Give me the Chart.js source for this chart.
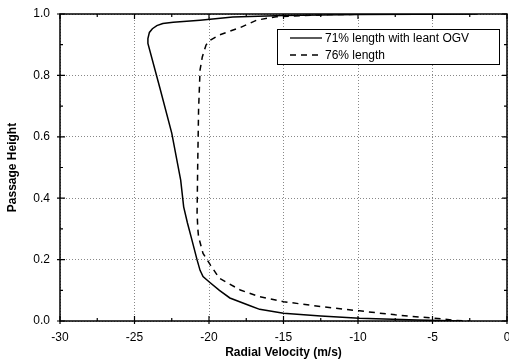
<!DOCTYPE html>
<html><head><meta charset="utf-8">
<script src="https://cdn.jsdelivr.net/npm/chart.js@4/dist/chart.umd.min.js"></script>
<style>html,body{margin:0;padding:0;background:#fff}#wrap{width:509px;height:363px}</style>
</head><body><div id="wrap"><canvas id="c" width="509" height="363"></canvas></div>
<script>
const seriesLabels = ["71% length with leant OGV", "76% length"];
const solidX = [-2, -10, -15, -18.4, -20.6, -22.4, -23.1, -23.5, -23.8, -24.0, -24.1, -24.1, -23.3, -22.5, -21.9, -21.7, -21.45, -21.2, -20.8, -20.6, -20.4, -20.0, -19.3, -18.6, -17.2, -16.6, -15.0, -12.5, -9.9, -6, -3.0];
const solidY = [1.0, 0.998, 0.995, 0.99, 0.98, 0.973, 0.969, 0.962, 0.952, 0.94, 0.92, 0.904, 0.76, 0.612, 0.459, 0.372, 0.32, 0.274, 0.199, 0.165, 0.145, 0.128, 0.1, 0.075, 0.049, 0.038, 0.025, 0.016, 0.009, 0.003, 0.0];
const dashX = [-8, -12, -15.5, -16.8, -17.9, -19.3, -19.9, -20.2, -20.45, -20.6, -20.7, -20.76, -20.8, -20.75, -20.7, -20.4, -19.9, -19.3, -17.9, -16.6, -15.0, -12.5, -9.9, -7.5, -4.9, -3.4, -2.5];
const dashY = [1.0, 0.998, 0.991, 0.98, 0.956, 0.932, 0.915, 0.899, 0.86, 0.818, 0.687, 0.502, 0.351, 0.3, 0.274, 0.22, 0.182, 0.139, 0.101, 0.079, 0.063, 0.047, 0.033, 0.02, 0.009, 0.002, 0.0];
const xTicks = [-30, -25, -20, -15, -10, -5, 0];
const yTicks = [0.0, 0.2, 0.4, 0.6, 0.8, 1.0];
const xTitle = "Radial Velocity (m/s)";
const yTitle = "Passage Height";

const toPts = (xs, ys) => xs.map((x, i) => ({x: x, y: ys[i]}));

const framePlugin = {
  id: 'frame',
  afterDatasetsDraw(chart) {
    const ctx = chart.ctx, a = chart.chartArea;
    const xs = chart.scales.x, ys = chart.scales.y;
    ctx.save();
    ctx.strokeStyle = '#000';
    ctx.lineWidth = 1.5;
    ctx.strokeRect(a.left, a.top, a.right - a.left, a.bottom - a.top);
    ctx.lineWidth = 1.2;
    ctx.beginPath();
    for (let v = -30; v <= 0.001; v += 2.5) {
      const px = xs.getPixelForValue(v);
      const major = Math.abs(v % 5) < 0.01;
      const L = major ? 5 : 3;
      ctx.moveTo(px, a.bottom); ctx.lineTo(px, a.bottom - L);
      ctx.moveTo(px, a.top); ctx.lineTo(px, a.top + L);
      if (major) { ctx.moveTo(px, a.bottom); ctx.lineTo(px, a.bottom + 3); }
    }
    for (let k = 0; k <= 10; k++) {
      const v = k / 10;
      const py = ys.getPixelForValue(v);
      const major = k % 2 === 0;
      const L = major ? 5 : 3;
      ctx.moveTo(a.left, py); ctx.lineTo(a.left + L, py);
      ctx.moveTo(a.right, py); ctx.lineTo(a.right - L, py);
      if (major) { ctx.moveTo(a.left, py); ctx.lineTo(a.left - 3, py); }
    }
    ctx.stroke();
    ctx.restore();
  },
  afterDraw(chart) {
    const ctx = chart.ctx;
    const bx = 277, by = 29, bw = 222, bh = 35;
    ctx.save();
    ctx.fillStyle = '#fff';
    ctx.fillRect(bx, by, bw, bh);
    ctx.strokeStyle = '#000';
    ctx.lineWidth = 1;
    ctx.strokeRect(bx + 0.5, by + 0.5, bw, bh);
    ctx.font = '12px "Liberation Sans", Arial, sans-serif';
    ctx.fillStyle = '#000';
    ctx.textBaseline = 'middle';
    const rows = [38, 55];
    chart.data.datasets.forEach((ds, i) => {
      ctx.beginPath();
      ctx.lineWidth = 1.3;
      ctx.setLineDash(ds.borderDash || []);
      ctx.moveTo(290, rows[i]); ctx.lineTo(322, rows[i]);
      ctx.stroke();
      ctx.setLineDash([]);
      ctx.fillText(ds.label, 325, rows[i] + 1);
    });
    ctx.restore();
  }
};

new Chart(document.getElementById('c'), {
  type: 'scatter',
  data: {
    datasets: [
      {label: seriesLabels[0], data: toPts(solidX, solidY), showLine: true, borderColor: '#000', borderWidth: 1.5, pointRadius: 0, tension: 0, fill: false},
      {label: seriesLabels[1], data: toPts(dashX, dashY), showLine: true, borderColor: '#000', borderWidth: 1.5, borderDash: [6, 5], pointRadius: 0, tension: 0, fill: false}
    ]
  },
  options: {
    responsive: false,
    animation: false,
    layout: {padding: {top: 14, right: 2, left: 0, bottom: 0}},
    plugins: {legend: {display: false}, tooltip: {enabled: false}},
    scales: {
      x: {
        type: 'linear', min: -30, max: 0,
        afterBuildTicks: s => { s.ticks = xTicks.map(v => ({value: v})); },
        afterFit: s => { s.height = 42; s.paddingLeft = 0; s.paddingRight = 0; },
        ticks: {padding: 9, color: '#000', font: {family: '"Liberation Sans", Arial, sans-serif', size: 12}, maxRotation: 0},
        grid: {color: '#888', lineWidth: 1, drawTicks: false},
        border: {display: false, dash: [1, 2]},
        title: {display: true, text: xTitle, color: '#000', font: {family: '"Liberation Sans", Arial, sans-serif', size: 12, weight: 'bold'}, padding: {top: 0, bottom: 3}}
      },
      y: {
        type: 'linear', min: 0, max: 1,
        afterBuildTicks: s => { s.ticks = yTicks.map(v => ({value: v})); },
        afterFit: s => { s.width = 60; s.paddingTop = 0; s.paddingBottom = 0; },
        ticks: {padding: 10, color: '#000', font: {family: '"Liberation Sans", Arial, sans-serif', size: 12}, callback: v => Number(v).toFixed(1)},
        grid: {color: '#888', lineWidth: 1, drawTicks: false},
        border: {display: false, dash: [1, 2]},
        title: {display: true, text: yTitle, color: '#000', font: {family: '"Liberation Sans", Arial, sans-serif', size: 12, weight: 'bold'}, padding: {top: 5, bottom: 0}}
      }
    }
  },
  plugins: [framePlugin]
});
</script></body></html>
